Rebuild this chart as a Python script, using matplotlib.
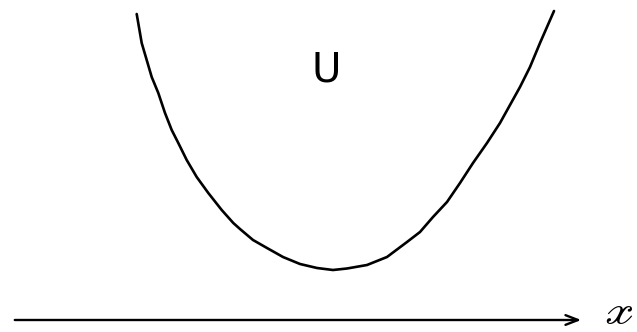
import matplotlib
matplotlib.use("Agg")
import matplotlib.pyplot as plt

# Curve samples (x to the right, height measured downward like the picture)
curve_x = [136.7, 141.7, 146.7, 151.7, 158.3, 165, 171.7, 178.3, 186.7, 196.7, 208.3, 221.7, 233.3,
           240, 253, 267, 283, 300, 317, 333, 347, 367, 387, 407, 420, 433, 447, 460, 473, 487,
           500, 510, 520, 530, 540, 547, 554]
curve_y = [14, 43, 60, 77, 93, 113, 130, 143, 160, 177, 193, 210, 223,
           229, 240, 248, 257, 264, 268, 270, 268.5, 265, 257, 242, 232, 217, 202, 183, 163, 143,
           123, 105, 87, 67, 43, 27, 11]

curve_label = "U"
axis_label = "𝓍"

fig = plt.figure(figsize=(6.37, 3.32), dpi=100)
ax = fig.add_axes([0, 0, 1, 1])
ax.set_xlim(0, 637)
ax.set_ylim(332, 0)
ax.axis("off")

ax.plot(curve_x, curve_y, color="black", lw=1.9, solid_capstyle="round", solid_joinstyle="round")

ax.annotate("", xy=(584, 320), xytext=(12, 320),
            arrowprops=dict(arrowstyle="->,head_length=0.9,head_width=0.35", color="black", lw=1.7))

ax.text(326, 71, curve_label, fontsize=29, fontweight="normal", family="DejaVu Sans",
        ha="center", va="center", color="black")
ax.text(619, 314, axis_label, fontsize=30, ha="center", va="center", color="black",
        family=["STIXGeneral", "DejaVu Sans"])

fig.savefig("out.png", dpi=100, facecolor="white")
